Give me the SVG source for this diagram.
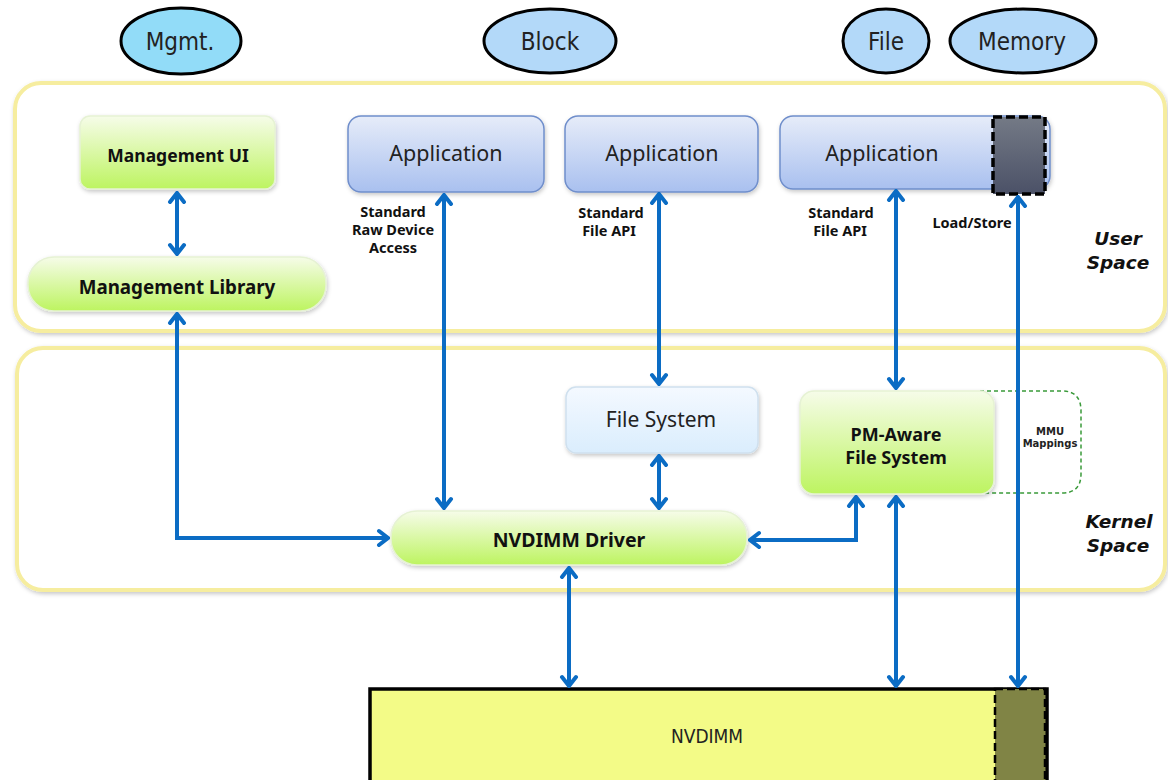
<svg xmlns="http://www.w3.org/2000/svg" width="1168" height="780" viewBox="0 0 1168 780">
  <defs>
    <linearGradient id="gGreen" x1="0" y1="0" x2="0" y2="1">
      <stop offset="0" stop-color="#f6fce9"/>
      <stop offset="1" stop-color="#bdf460"/>
    </linearGradient>
    <linearGradient id="gBlue" x1="0" y1="0" x2="0" y2="1">
      <stop offset="0" stop-color="#e6ecf9"/>
      <stop offset="1" stop-color="#a9c0ef"/>
    </linearGradient>
    <linearGradient id="gLight" x1="0" y1="0" x2="0" y2="1">
      <stop offset="0" stop-color="#f4f9ff"/>
      <stop offset="1" stop-color="#daedfd"/>
    </linearGradient>
    <linearGradient id="gDark" x1="0" y1="0" x2="0" y2="1">
      <stop offset="0" stop-color="#747a86"/>
      <stop offset="1" stop-color="#4b5167"/>
    </linearGradient>
    <filter id="shadow" x="-10%" y="-10%" width="120%" height="130%">
      <feDropShadow dx="1" dy="2" stdDeviation="2" flood-color="#000" flood-opacity="0.22"/>
    </filter>
    <marker id="arr" viewBox="-12 -10 14 20" refX="0" refY="0" markerWidth="14" markerHeight="20" markerUnits="userSpaceOnUse" orient="auto-start-reverse">
      <path d="M-9,-7 L0,0 L-9,7" fill="none" stroke="#0b6cc4" stroke-width="4" stroke-linejoin="miter" stroke-linecap="round"/>
    </marker>
    <style>
      .panel { fill: #ffffff; stroke: #f6ed9f; stroke-width: 4; }
      .oval { stroke: #000; stroke-width: 3; }
      .ovtxt { font-family: "DejaVu Sans", sans-serif; font-size: 24px; fill: #222; text-anchor: middle; font-stretch: condensed; }
      .green { fill: url(#gGreen); stroke: #e6f2d4; stroke-width: 1.5; }
      .app { fill: url(#gBlue); stroke: #6f8ecb; stroke-width: 1.5; }
      .bold { font-family: "Noto Sans", "Open Sans", sans-serif; font-weight: bold; fill: #111; text-anchor: middle; }
      .reg { font-family: "Noto Sans", "Open Sans", sans-serif; fill: #222; text-anchor: middle; }
      .side { font-family: "DejaVu Sans", sans-serif; font-weight: bold; font-style: italic; font-size: 18.5px; fill: #111; text-anchor: middle; }
      .conn { fill: none; stroke: #0b6cc4; stroke-width: 4; marker-start: url(#arr); marker-end: url(#arr); }
    </style>
  </defs>

  <!-- access-mode ovals -->
  <g id="mode-mgmt">
    <ellipse class="oval" cx="181" cy="41" rx="60" ry="33" fill="#92dcf8"/>
    <text class="ovtxt" x="180" y="50">Mgmt.</text>
  </g>
  <g id="mode-block">
    <ellipse class="oval" cx="550" cy="41" rx="66" ry="32" fill="#b3d9f9"/>
    <text class="ovtxt" x="550" y="50">Block</text>
  </g>
  <g id="mode-file">
    <ellipse class="oval" cx="886" cy="41" rx="43" ry="32" fill="#b3d9f9"/>
    <text class="ovtxt" x="886" y="50">File</text>
  </g>
  <g id="mode-memory">
    <ellipse class="oval" cx="1023" cy="41" rx="73" ry="32" fill="#b3d9f9"/>
    <text class="ovtxt" x="1022" y="50">Memory</text>
  </g>

  <!-- layer panels -->
  <g id="user-space">
    <rect class="panel" x="15" y="83" width="1150" height="248" rx="26" filter="url(#shadow)"/>
    <text class="side" x="1118" y="245">User</text>
    <text class="side" x="1118" y="269">Space</text>
  </g>
  <g id="kernel-space">
    <rect class="panel" x="17" y="348" width="1148" height="242" rx="26" filter="url(#shadow)"/>
    <text class="side" x="1119" y="528">Kernel</text>
    <text class="side" x="1118" y="552">Space</text>
  </g>

  <!-- user space components -->
  <g id="management-ui">
    <rect class="green" x="80" y="116" width="195" height="73" rx="10" filter="url(#shadow)"/>
    <text class="bold" x="178" y="162" font-size="17.5">Management UI</text>
  </g>
  <g id="management-library">
    <rect class="green" x="28" y="257" width="298" height="54" rx="26" filter="url(#shadow)"/>
    <text class="bold" x="177" y="294" font-size="18.8">Management Library</text>
  </g>
  <g id="app-block">
    <rect class="app" x="348" y="116" width="196" height="76" rx="13" filter="url(#shadow)"/>
    <text class="reg" x="446" y="161" font-size="21.5">Application</text>
  </g>
  <g id="app-file">
    <rect class="app" x="565" y="116" width="193" height="76" rx="13" filter="url(#shadow)"/>
    <text class="reg" x="662" y="161" font-size="21.5">Application</text>
  </g>
  <g id="app-pm">
    <rect class="app" x="780" y="116" width="270" height="73" rx="13" filter="url(#shadow)"/>
    <text class="reg" x="882" y="161" font-size="21.5">Application</text>
    <rect x="993" y="117" width="52" height="77" fill="url(#gDark)" stroke="#000" stroke-width="3.5" stroke-dasharray="9,4"/>
  </g>

  <!-- interface labels -->
  <g id="labels" font-family="'Noto Sans', sans-serif" font-weight="bold" font-size="14.5" fill="#111" text-anchor="middle">
    <text x="393" y="217">Standard</text>
    <text x="393" y="235">Raw Device</text>
    <text x="393" y="253">Access</text>
    <text x="611" y="218">Standard</text>
    <text x="609" y="236">File API</text>
    <text x="841" y="218">Standard</text>
    <text x="840" y="236">File API</text>
    <text x="972" y="228">Load/Store</text>
  </g>

  <!-- kernel space components -->
  <g id="file-system">
    <rect x="566" y="387" width="192" height="66" rx="10" fill="url(#gLight)" stroke="#cfe0ee" stroke-width="1.5" filter="url(#shadow)"/>
    <text class="reg" x="661" y="427" font-size="21">File System</text>
  </g>
  <g id="mmu-mappings">
    <path d="M980,391 H1062 Q1081,391 1081,411 V474 Q1081,493 1062,493 H980" fill="none" stroke="#3a9a3a" stroke-width="1.5" stroke-dasharray="4,3"/>
    <text x="1050" y="435" font-family="'DejaVu Sans', sans-serif" font-weight="bold" font-size="10" fill="#222" text-anchor="middle">MMU</text>
    <text x="1050" y="447" font-family="'DejaVu Sans', sans-serif" font-weight="bold" font-size="10" fill="#222" text-anchor="middle">Mappings</text>
  </g>
  <g id="pm-aware-fs">
    <rect class="green" x="800" y="391" width="194" height="103" rx="14" filter="url(#shadow)"/>
    <text class="bold" x="896" y="441" font-size="18">PM-Aware</text>
    <text class="bold" x="896" y="464" font-size="18">File System</text>
  </g>
  <g id="nvdimm-driver">
    <rect class="green" x="391" y="511" width="356" height="54" rx="26" filter="url(#shadow)"/>
    <text class="bold" x="569" y="547" font-size="19.5">NVDIMM Driver</text>
  </g>

  <!-- hardware -->
  <g id="nvdimm">
    <rect x="370" y="689" width="677" height="95" fill="#f3fb87" stroke="#000" stroke-width="3.5"/>
    <rect x="995" y="689" width="50" height="95" fill="#808445" stroke="#000" stroke-width="2.5" stroke-dasharray="8,4"/>
    <text x="707" y="743" font-family="'DejaVu Sans', sans-serif" font-size="19" fill="#222" text-anchor="middle" font-stretch="condensed">NVDIMM</text>
  </g>

  <!-- connectors -->
  <g id="connectors">
    <line class="conn" x1="177" y1="193" x2="177" y2="254"/>
    <path class="conn" d="M177,314 V538 H388"/>
    <line class="conn" x1="444" y1="195" x2="444" y2="508"/>
    <line class="conn" x1="659" y1="194" x2="659" y2="384"/>
    <line class="conn" x1="659" y1="456" x2="659" y2="508"/>
    <line class="conn" x1="896" y1="191" x2="896" y2="388"/>
    <path class="conn" d="M750,540 H856 V497"/>
    <line class="conn" x1="896" y1="497" x2="896" y2="686"/>
    <line class="conn" x1="569" y1="568" x2="569" y2="686"/>
    <line class="conn" x1="1018" y1="197" x2="1018" y2="686"/>
  </g>
</svg>
